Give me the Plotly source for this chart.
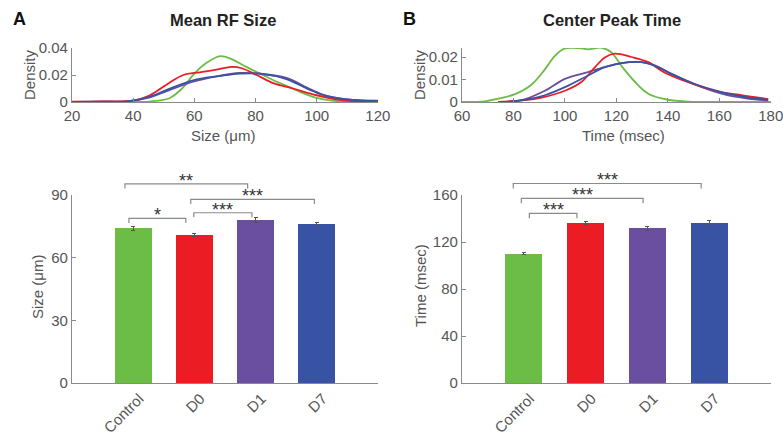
import plotly.graph_objects as go

W, H = 783, 437

groups = ["Control", "D0", "D1", "D7"]
colors = ["#6bbd45", "#ec1c24", "#6a4e9f", "#3853a4"]

# ---- Panel A: density of mean RF size ----
a_ctrl_x = [20, 35, 41, 45, 48, 52, 56, 60, 64, 68.5, 72, 77, 81.5, 87, 91, 94.5, 100, 105, 110, 120]
a_ctrl_y = [0, 0, 0, 0.0003, 0.001, 0.003, 0.010, 0.021, 0.029, 0.034, 0.032, 0.026, 0.021, 0.015, 0.011, 0.0075, 0.003, 0.001, 0.0003, 0]
a_d0_x = [20, 30, 40, 45.5, 51, 56.4, 61.8, 67.3, 72.2, 75.5, 80.4, 85.8, 92.3, 100, 108.6, 120]
a_d0_y = [0.0003, 0.0005, 0.001, 0.005, 0.013, 0.020, 0.022, 0.024, 0.026, 0.025, 0.020, 0.014, 0.010, 0.005, 0.0013, 0.0003]
a_d1_x = [20, 30, 38, 45.5, 51, 59.6, 67.3, 74.9, 81.4, 90.1, 97.8, 103.2, 111.8, 120]
a_d1_y = [0, 0.0002, 0.0005, 0.0035, 0.008, 0.015, 0.019, 0.0215, 0.021, 0.0178, 0.0095, 0.0045, 0.0015, 0.0008]
a_d7_x = [20, 30, 38, 45.5, 51, 59.6, 67.3, 74.9, 81.4, 90.1, 97.8, 103.2, 111.8, 120]
a_d7_y = [0, 0.0002, 0.0005, 0.004, 0.009, 0.016, 0.019, 0.021, 0.021, 0.017, 0.009, 0.0045, 0.0015, 0.001]

# ---- Panel B: density of center peak time ----
b_ctrl_x = [60, 68.9, 74.1, 80.6, 87.1, 92.2, 96.1, 100, 106.5, 109, 114.3, 118.1, 122, 127.2, 132.4, 140.1, 148, 160, 180]
b_ctrl_y = [0, 0.0003, 0.0015, 0.0035, 0.0078, 0.0145, 0.0205, 0.0238, 0.0238, 0.0234, 0.0241, 0.022, 0.016, 0.009, 0.0037, 0.001, 0.0002, 0, 0]
b_d0_x = [74, 83.2, 91, 100, 106.5, 111.7, 115.5, 119.4, 125.9, 132.4, 138.8, 147.9, 158.3, 168.6, 179]
b_d0_y = [0, 0.0007, 0.002, 0.005, 0.009, 0.0155, 0.0198, 0.0215, 0.020, 0.0177, 0.013, 0.0088, 0.005, 0.003, 0.0013]
b_d1_x = [75, 83.2, 92.2, 100, 109, 115.5, 122, 129.8, 135, 141.4, 150.5, 160.9, 171, 179]
b_d1_y = [0, 0.0008, 0.005, 0.0103, 0.0133, 0.0155, 0.0173, 0.0177, 0.0162, 0.0125, 0.0078, 0.0037, 0.0015, 0.0007]
b_d7_x = [75, 83.2, 92.2, 100, 109, 115.5, 122, 129.8, 135, 141.4, 150.5, 160.9, 171, 179]
b_d7_y = [0, 0.0007, 0.003, 0.0066, 0.0118, 0.0155, 0.0173, 0.0177, 0.0162, 0.0125, 0.008, 0.0044, 0.002, 0.001]

# ---- Bar charts ----
size_means = [74, 71, 78, 76]
size_err = [0.8, 0.8, 1.0, 1.0]
time_means = [110, 136, 131.5, 136.5]
time_err = [1.0, 1.5, 1.8, 2.0]

# significance brackets: (group i, group j, label)
size_sig = [("Control", "D0", "*"), ("D0", "D1", "***"), ("D0", "D7", "***"), ("Control", "D1", "**")]
time_sig = [("Control", "D0", "***"), ("Control", "D1", "***"), ("Control", "D7", "***")]

# ---- styling / layout helpers ----
FONT = "Liberation Sans, Arial, sans-serif"
AX_COL = "#8a8a8a"
TXT_COL = "#555555"

def px_x(p):
    return p / W

def px_y(p):
    return 1 - p / H

A_X = [px_x(72), px_x(378)]
B_X = [px_x(462), px_x(771)]
DENS_Y = [px_y(102), px_y(48)]
BAR_TOP, BAR_BOT, OVER_TOP = 195, 383, 165
BAR_Y = [px_y(BAR_BOT), px_y(BAR_TOP)]
OVER_Y = [px_y(BAR_BOT), px_y(OVER_TOP)]
over_scale = (BAR_BOT - OVER_TOP) / (BAR_BOT - BAR_TOP)

fig = go.Figure()

dens_a = [(a_ctrl_x, a_ctrl_y), (a_d0_x, a_d0_y), (a_d1_x, a_d1_y), (a_d7_x, a_d7_y)]
dens_b = [(b_ctrl_x, b_ctrl_y), (b_d0_x, b_d0_y), (b_d1_x, b_d1_y), (b_d7_x, b_d7_y)]
draw_order = [0, 2, 1, 3]
for k in draw_order:
    fig.add_trace(go.Scatter(x=dens_a[k][0], y=dens_a[k][1], mode="lines",
                             line=dict(color=colors[k], width=1.8, shape="spline", smoothing=1.0),
                             xaxis="x", yaxis="y", showlegend=False))
for k in draw_order:
    fig.add_trace(go.Scatter(x=dens_b[k][0], y=dens_b[k][1], mode="lines",
                             line=dict(color=colors[k], width=1.8, shape="spline", smoothing=1.0),
                             xaxis="x2", yaxis="y2", showlegend=False))

pos = [i + 1 for i in range(len(groups))]
fig.add_trace(go.Bar(x=pos, y=size_means, marker=dict(color=colors, line=dict(width=0)), width=0.6,
                     error_y=dict(type="data", array=size_err, color="#555555", thickness=1, width=2),
                     xaxis="x3", yaxis="y3", showlegend=False))
fig.add_trace(go.Bar(x=pos, y=time_means, marker=dict(color=colors, line=dict(width=0)), width=0.6,
                     error_y=dict(type="data", array=time_err, color="#555555", thickness=1, width=2),
                     xaxis="x4", yaxis="y4", showlegend=False))

annotations = []

def add_brackets(sig, levels, offsets, drop, xa, ya):
    for (g1, g2, lab), lvl, (o1, o2) in zip(sig, levels, offsets):
        x1 = groups.index(g1) + 1 + o1
        x2 = groups.index(g2) + 1 + o2
        fig.add_trace(go.Scatter(x=[x1, x1, x2, x2], y=[lvl - drop, lvl, lvl, lvl - drop], mode="lines",
                                 line=dict(color=AX_COL, width=1.2), xaxis=xa, yaxis=ya,
                                 showlegend=False, hoverinfo="skip"))
        annotations.append(dict(x=(x1 + x2) / 2, y=lvl, xref=xa, yref=ya, text=lab, showarrow=False,
                                yanchor="bottom", yshift=-9, font=dict(family=FONT, size=18, color="#333333")))

# brackets drawn on invisible overlay axes that share the bar axes' scale but extend above them
add_brackets(size_sig, [78.8, 81.5, 87.9, 95.3], [(-0.07, -0.14), (-0.01, -0.06), (-0.06, -0.04), (-0.135, -0.13)],
             2.2, "x5", "y5")
add_brackets(time_sig, [144.4, 157.2, 169.8], [(0.09, -0.14), (-0.04, -0.07), (-0.17, -0.13)],
             4.2, "x6", "y6")

axis_common = dict(showline=True, linecolor=AX_COL, linewidth=1.2, ticks="inside", ticklen=4,
                   tickcolor=AX_COL, tickwidth=1.2, showgrid=False, zeroline=False, automargin=False,
                   ticklabeloverflow="allow",
                   tickfont=dict(family=FONT, size=15, color=TXT_COL))
hidden = dict(visible=False, showgrid=False, zeroline=False, automargin=False)

fig.update_layout(
    width=W, height=H, margin=dict(l=0, r=0, t=0, b=0),
    paper_bgcolor="white", plot_bgcolor="rgba(0,0,0,0)", bargap=0,
    xaxis=dict(axis_common, domain=A_X, anchor="y", range=[20, 120.05], tickvals=[20, 40, 60, 80, 100, 120]),
    yaxis=dict(axis_common, domain=DENS_Y, anchor="x", range=[0, 0.04], tickvals=[0, 0.02, 0.04],
               ticktext=["0", "0.02", "0.04"]),
    xaxis2=dict(axis_common, domain=B_X, anchor="y2", range=[60, 180.1], tickvals=[60, 80, 100, 120, 140, 160, 180]),
    yaxis2=dict(axis_common, domain=DENS_Y, anchor="x2", range=[0, 0.024], tickvals=[0, 0.01, 0.02],
                ticktext=["0", "0.01", "0.02"]),
    xaxis3=dict(axis_common, domain=A_X, anchor="y3", range=[0, 5], tickvals=pos, ticktext=groups,
                ticks="", tickangle=-45, ticklabelshift=6),
    yaxis3=dict(axis_common, domain=BAR_Y, anchor="x3", range=[0, 90], tickvals=[0, 30, 60, 90]),
    xaxis4=dict(axis_common, domain=B_X, anchor="y4", range=[0, 5], tickvals=pos, ticktext=groups,
                ticks="", tickangle=-45, ticklabelshift=6),
    yaxis4=dict(axis_common, domain=BAR_Y, anchor="x4", range=[0, 160], tickvals=[0, 40, 80, 120, 160]),
    xaxis5=dict(hidden, domain=A_X, anchor="y5", range=[0, 5]),
    yaxis5=dict(hidden, domain=OVER_Y, anchor="x5", range=[0, 90 * over_scale]),
    xaxis6=dict(hidden, domain=B_X, anchor="y6", range=[0, 5]),
    yaxis6=dict(hidden, domain=OVER_Y, anchor="x6", range=[0, 160 * over_scale]),
)

def label(x, y, text, size=15, color=TXT_COL, angle=0, bold=False):
    return dict(x=px_x(x), y=px_y(y), xref="paper", yref="paper", text=f"<b>{text}</b>" if bold else text,
                showarrow=False, textangle=angle, xanchor="center", yanchor="middle",
                font=dict(family=FONT, size=size, color=color))

annotations += [
    label(223, 20, "Mean RF Size", 16.5, "#222222", bold=True),
    label(612, 20, "Center Peak Time", 16.5, "#222222", bold=True),
    label(19, 19, "A", 18, "#111111", bold=True),
    label(409, 19, "B", 18, "#111111", bold=True),
    label(223, 135, "Size (μm)"),
    label(623, 135, "Time (msec)"),
    label(29, 75, "Density", angle=-90),
    label(419, 75, "Density", angle=-90),
    label(37, 287, "Size (μm)", angle=-90),
    label(420, 286, "Time (msec)", angle=-90),
]
fig.update_layout(annotations=annotations)

fig.write_html("out.html", config={"displayModeBar": False},
               post_script="document.body.style.margin='0';document.body.style.padding='0';")
